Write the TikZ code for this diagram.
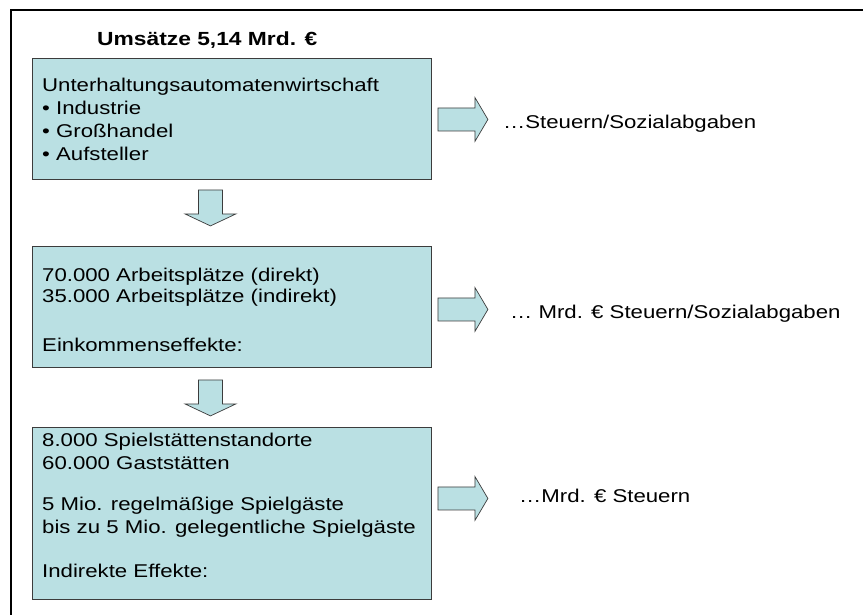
\documentclass[tikz,border=0pt]{standalone}
\usepackage{fontspec}
\setmainfont{Liberation Sans}[FakeStretch=1.2]
\definecolor{boxfill}{RGB}{186,224,227}
\definecolor{edge}{RGB}{60,60,60}
\begin{document}
\begin{tikzpicture}[x=1pt,y=-1pt,
  box/.style={draw=edge, line width=0.9pt, fill=boxfill, anchor=north west, inner sep=0pt, minimum width=399pt},
  txt/.style={anchor=base west, inner sep=0pt, font=\fontsize{18.5}{22}\selectfont},
  ttl/.style={anchor=base west, inner sep=0pt, font=\fontsize{19}{22}\selectfont\bfseries},
  arrowfill/.style={draw=edge, line width=0.7pt, fill=boxfill, line join=miter},
  downarr/.pic={\draw[arrowfill] (-12,0) -- (12,0) -- (12,24) -- (25.5,24) -- (0,36) -- (-25.5,24) -- (-12,24) -- cycle;},
  rightarr/.pic={\draw[arrowfill] (0,-11.5) -- (37,-11.5) -- (37,-22) -- (50,0) -- (37,22) -- (37,11.5) -- (0,11.5) -- cycle;}
]
\useasboundingbox (0,0) rectangle (863,614);
\clip (0,0) rectangle (863,614);
\fill[white] (0,0) rectangle (863,614);
% frame
\draw[line width=2pt] (11,700) -- (11,10) -- (900,10);

% title
\node[ttl] (title) at (97,45) {Umsätze 5,14 Mrd. €};

% boxes
\node[box, minimum height=121pt] (b1) at (32,58) {};
\node[box, minimum height=121pt] (b2) at (32,246) {};
\node[box, minimum height=172pt] (b3) at (32,427) {};

% box texts
\node[txt] (t11) at (42,91) {Unterhaltungsautomatenwirtschaft};
\node[txt] (t12) at (42,114) {• Industrie};
\node[txt] (t13) at (42,137) {• Großhandel};
\node[txt] (t14) at (42,160) {• Aufsteller};

\node[txt] (t21) at (42,281) {70.000 Arbeitsplätze (direkt)};
\node[txt] (t22) at (42,302) {35.000 Arbeitsplätze (indirekt)};
\node[txt] (t23) at (42,351) {Einkommenseffekte:};

\node[txt] (t31) at (42,446) {8.000 Spielstättenstandorte};
\node[txt] (t32) at (42,469) {60.000 Gaststätten};
\node[txt] (t33) at (42,510) {5 Mio. regelmäßige Spielgäste};
\node[txt] (t34) at (42,533) {bis zu 5 Mio. gelegentliche Spielgäste};
\node[txt] (t35) at (42,577) {Indirekte Effekte:};

% down arrows
\pic at ([shift={(-21.5,10)}]b1.south) {downarr};
\pic at ([shift={(-21.5,12)}]b2.south) {downarr};

% right arrows
\pic at ([shift={(6,0.5)}]b1.east) {rightarr};
\pic at ([shift={(6,2.5)}]b2.east) {rightarr};
\pic at ([shift={(6,-15)}]b3.east) {rightarr};

% right texts
\node[txt] (s1) at (503,128) {…Steuern/Sozialabgaben};
\node[txt] (s2) at (510,318) {… Mrd. € Steuern/Sozialabgaben};
\node[txt] (s3) at (519,502) {…Mrd. € Steuern};
\end{tikzpicture}
\end{document}
